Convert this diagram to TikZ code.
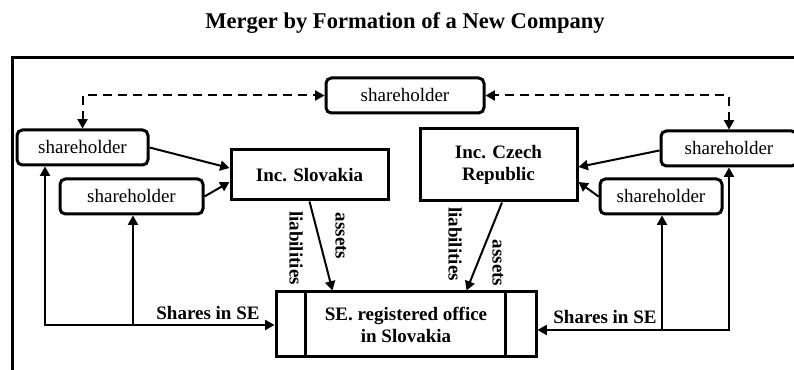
\documentclass[tikz,border=0pt]{standalone}
\usepackage{fontspec}
\setmainfont{Liberation Serif}
\usetikzlibrary{arrows.meta,calc}

\begin{document}
\begin{tikzpicture}[
    x=0.75pt, y=-0.75pt,
    holder/.style={rectangle, draw, line width=2.25pt, rounded corners=4pt, minimum height=26.25pt, inner sep=0pt, font=\fontsize{14.25}{16.5}\selectfont},
    company/.style={rectangle, draw, line width=2.25pt, inner sep=0pt, align=center, font=\fontsize{14.25}{16.5}\selectfont\bfseries},
    flow/.style={-{Triangle[length=7pt,width=7.5pt]}, line width=1.5pt},
    twoway/.style={{Triangle[length=7pt,width=7.5pt]}-{Triangle[length=7pt,width=7.5pt]}, line width=1.5pt},
    link/.style={twoway, dash pattern=on 6.75pt off 4.5pt},
    side/.style={font=\fontsize{14.25}{16.5}\selectfont\bfseries, rotate=-90, inner sep=0pt},
    shares/.style={font=\fontsize{14.25}{16.5}\selectfont\bfseries, inner sep=0pt}
]
\useasboundingbox (0,0) rectangle (794,370);

% ===== TITLE AND FRAME =====
\node[font=\fontsize{16.9}{20}\selectfont\bfseries] (title) at (405,23) {Merger by Formation of a New Company};
\draw[line width=2.25pt] (12,374) -- (12,58) -- (798,58);

% ===== SHAREHOLDERS =====
\node[holder, minimum width=118.5pt] (sh_top) at (405,95.5) {shareholder};
\node[holder, minimum width=98.25pt] (sh_l1) at (82.5,147.5) {shareholder};
\node[holder, minimum width=107.25pt] (sh_l2) at (131.5,196.5) {shareholder};
\node[holder, minimum width=102pt] (sh_r1) at (729,148.5) {shareholder};
\node[holder, minimum width=91.5pt] (sh_r2) at (661,196.5) {shareholder};

% ===== COMPANIES =====
\node[company, minimum width=117.75pt, minimum height=37.5pt] (inc_sk) at (309.5,175) {Inc. Slovakia};
\node[company, minimum width=117.75pt, minimum height=54pt] (inc_cz) at (498.5,165) {Inc. Czech\\Republic};

% New company with side cells
\node[company, minimum width=195pt, minimum height=48.75pt] (se) at (406,324.5) {SE. registered office\\in Slovakia};
\draw[line width=2.25pt] ($(se.north west)+(31,0)$) -- ($(se.south west)+(31,0)$);
\draw[line width=2.25pt] ($(se.north east)+(-32,0)$) -- ($(se.south east)+(-32,0)$);

% ===== CONNECTIONS =====
\draw[link] (sh_l1.north) |- (sh_top.west);
\draw[link] (sh_r1.north) |- (sh_top.east);

\draw[flow] (sh_l1.east) -- ($(inc_sk.west)+(0,-7)$);
\draw[flow] (sh_l2.east) -- ($(inc_sk.west)+(0,7)$);
\draw[flow] ($(sh_r1.west)+(0,2)$) -- ($(inc_cz.east)+(0,2)$);
\draw[flow] (sh_r2.west) -- ($(inc_cz.east)+(0,17)$);

% transfer of assets and liabilities
\draw[flow] (inc_sk.south) -- ($(se.north west)+(58,0)$);
\draw[flow] ($(inc_cz.south)+(3.5,0)$) -- ($(se.north east)+(-71,0)$);
\node[side] (liab_sk) at (296,248) {liabilities};
\node[side] (asset_sk) at (341,236) {assets};
\node[side] (liab_cz) at (455,244) {liabilities};
\node[side] (asset_cz) at (498,263) {assets};

% shares in the new company
\coordinate (jl) at (45,325);
\coordinate (jl2) at (133,325);
\coordinate (jr) at (729,330);
\coordinate (jr2) at (662,330);
\draw[twoway] (jl |- sh_l1.south) -- (jl) -- (jl -| se.west);
\draw[flow] (jl2) -- (jl2 |- sh_l2.south);
\draw[twoway] (jr |- sh_r1.south) -- (jr) -- (jr -| se.east);
\draw[flow] (jr2) -- (jr2 |- sh_r2.south);
\node[shares] (shares_l) at (208,313) {Shares in SE};
\node[shares] (shares_r) at (605,317) {Shares in SE};

\end{tikzpicture}
\end{document}
